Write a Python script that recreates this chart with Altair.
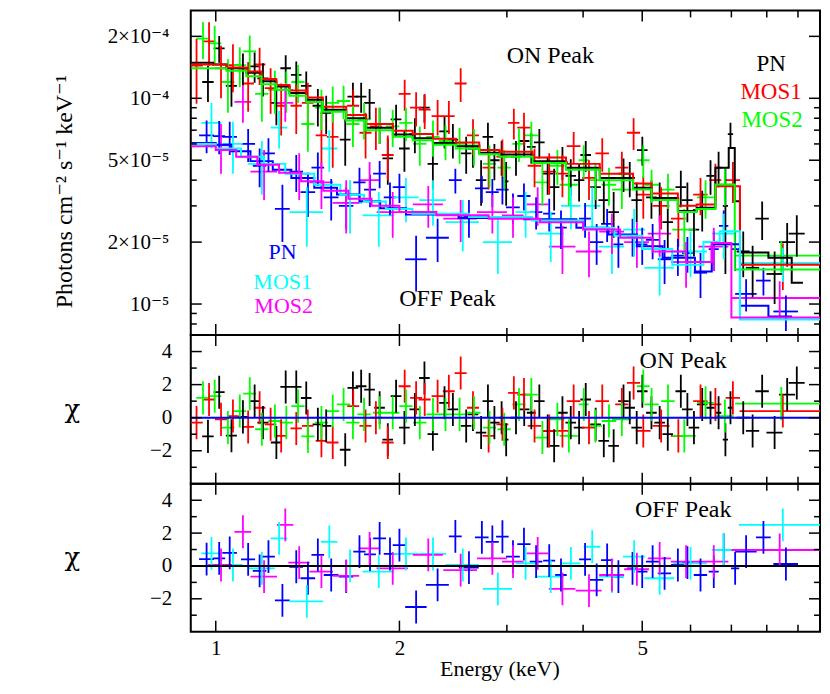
import altair as alt
import pandas as pd

FONT = "Liberation Serif, Times New Roman, DejaVu Serif, serif"
CHI_FONT = "DejaVu Serif, Liberation Serif, serif"
W = 630
H_TOP, H_MID, H_BOT = 325, 149, 148

# ---------------- data (energy in keV, flux in units of 1e-5 photons cm^-2 s^-1 keV^-1) -------------
# ON peak, PN (black)
on_pn_E = [0.971,1.013,1.061,1.108,1.158,1.195,1.257,1.302,1.355,1.407,1.470,1.517,1.630,1.678,1.731,1.787,1.856,1.914,1.975,2.038,
           2.120,2.198,2.269,2.371,2.447,2.573,2.640,2.722,2.793,2.862,2.941,2.992,3.105,3.203,3.290,3.391,3.499,3.586,3.700,3.818,
           3.940,4.040,4.194,4.325,4.489,4.659,4.770,4.897,5.002,5.177,5.340,5.506,5.784,5.929,6.078,6.270,6.470,6.670,6.844,6.976,
           7.320,7.584,7.862,8.240,8.640,8.960]
on_pn_dE = [0.021,0.021,0.022,0.023,0.023,0.025,0.026,0.026,0.027,0.028,0.029,0.030,0.033,0.034,0.035,0.036,0.037,0.038,0.040,0.041,
            0.043,0.044,0.045,0.047,0.049,0.051,0.053,0.054,0.056,0.057,0.026,0.026,0.062,0.064,0.055,0.068,0.070,0.072,0.074,0.076,
            0.079,0.081,0.084,0.087,0.090,0.093,0.095,0.098,0.100,0.104,0.107,0.110,0.116,0.119,0.122,0.125,0.100,0.067,0.068,0.070,
            0.180,0.190,0.200,0.250,0.260,0.270]
on_pn_flux = [12.0,17.5,11.5,14.0,14.3,12.5,9.5,14.0,13.0,11.5,9.2,8.5,6.3,10.2,10.2,9.5,7.5,5.1,7.9,5.7,
              6.7,9.0,4.8,6.9,6.3,5.4,5.7,4.0,6.5,5.0,5.2,3.95,5.2,6.2,5.8,6.1,4.3,3.7,4.9,4.2,
              4.0,5.3,3.7,3.2,2.8,4.3,4.1,3.2,5.6,3.3,3.2,2.5,3.7,3.2,2.3,2.9,4.2,4.6,3.0,6.7,
              1.8,1.5,2.6,1.4,2.0,2.2]
on_pn_err = [2.4,2.6,2.4,2.5,2.4,2.3,2.1,2.2,2.1,2.0,1.9,1.8,1.6,1.7,1.7,1.6,1.5,1.3,1.4,1.3,
             1.3,1.4,1.2,1.2,1.2,1.1,1.1,1.0,1.1,1.0,1.0,0.95,1.0,1.0,1.0,1.0,0.9,0.85,0.9,0.85,
             0.85,0.9,0.8,0.75,0.7,0.8,0.8,0.7,0.9,0.7,0.7,0.65,0.75,0.7,0.6,0.65,0.8,0.9,1.6,0.9,
             0.45,0.42,0.55,0.4,0.48,0.5]
on_pn_chi = [-1.13,1.54,-1.09,0.05,1.0,-0.3,-1.5,1.86,1.86,1.19,-0.4,-0.5,-1.94,1.8,1.9,1.7,0.6,-1.33,1.3,-0.6,
             0.5,2.4,-1.0,0.9,0.5,-0.5,0.2,-0.9,1.0,-0.3,0.0,-1.33,0.0,0.5,0.3,1.0,-0.8,-1.7,0.3,-0.3,
             -0.6,1.1,-0.4,-1.4,-1.7,1.0,0.6,-0.6,1.6,0.3,-0.3,-1.0,1.6,0.5,-0.6,0.8,0.6,0.3,-1.33,0.6,
             0.0,-0.8,1.6,-0.9,1.4,2.1]

# ON peak, MOS1 (red)
on_m1_E = [0.930,0.975,1.020,1.067,1.130,1.180,1.230,1.280,1.355,1.415,1.490,1.555,1.680,1.760,1.830,1.914,2.040,2.130,2.200,2.310,
           2.410,2.520,2.640,2.800,2.950,3.080,3.200,3.330,3.520,3.700,3.860,4.090,4.300,4.630,4.840,5.020,5.370,5.730,6.230,6.590,
           7.040,8.500]
on_m1_dE = [0.022,0.023,0.023,0.023,0.025,0.026,0.027,0.028,0.029,0.031,0.032,0.034,0.038,0.040,0.041,0.043,0.046,0.048,0.050,0.052,
            0.054,0.057,0.060,0.063,0.066,0.066,0.080,0.085,0.090,0.095,0.100,0.105,0.110,0.115,0.120,0.140,0.170,0.160,0.170,0.150,
            0.190,1.280]
on_m1_flux = [14.4,18.9,14.0,14.5,11.8,14.6,11.2,9.2,9.2,9.5,6.6,6.5,9.2,6.8,7.3,5.3,10.5,9.0,8.8,8.2,
              8.2,11.8,6.6,4.6,5.2,7.6,7.2,4.7,4.4,4.3,5.85,4.1,5.4,4.6,6.8,3.4,3.0,2.6,3.4,4.0,
              4.0,1.57]
on_m1_err = [5.0,4.5,4.0,3.8,3.2,3.0,2.8,2.6,2.5,2.4,2.0,1.9,1.8,1.7,1.7,1.3,1.8,1.7,1.7,1.6,
             1.5,2.2,1.3,1.0,1.1,1.3,1.3,1.0,1.0,1.0,1.0,0.9,1.0,0.9,1.2,0.8,0.7,0.7,0.7,0.8,
             0.9,0.40]
on_m1_chi = [-0.3,1.1,-0.1,0.1,-0.56,0.6,-0.4,-1.1,-0.65,-0.5,-1.4,-1.5,0.7,-0.5,0.0,-1.5,1.9,1.2,1.1,1.3,
             1.6,2.7,0.6,-1.1,-0.4,1.5,1.4,-0.5,-0.8,-0.8,1.0,-0.6,1.0,0.8,2.1,-0.8,-0.5,-1.1,1.0,0.8,
             1.2,0.4]

# ON peak, MOS2 (green)
on_m2_E = [0.953,0.996,1.047,1.095,1.137,1.190,1.250,1.305,1.364,1.416,1.490,1.555,1.620,1.678,1.750,1.856,1.950,2.050,2.160,2.270,
           2.380,2.510,2.650,2.810,2.970,3.140,3.290,3.430,3.630,3.790,4.010,4.190,4.410,4.630,5.020,5.180,5.510,5.860,6.350,6.830,
           8.450]
on_m2_dE = [0.024,0.025,0.026,0.027,0.028,0.030,0.031,0.033,0.034,0.035,0.037,0.039,0.041,0.042,0.044,0.046,0.049,0.051,0.054,0.057,
            0.060,0.063,0.066,0.070,0.074,0.078,0.082,0.095,0.100,0.130,0.075,0.105,0.120,0.170,0.120,0.140,0.140,0.260,0.200,0.230,
            1.350]
on_m2_flux = [19.5,18.5,12.0,14.5,16.9,10.5,11.0,11.0,12.0,7.5,9.0,9.5,9.7,7.5,7.9,7.5,7.3,7.6,6.0,6.5,
              6.2,6.0,5.9,4.8,4.6,6.0,6.6,3.9,4.7,3.8,5.0,4.0,3.8,3.6,5.0,3.8,3.6,2.3,3.3,3.8,
              1.72]
on_m2_err = [4.0,4.0,3.5,3.2,3.3,2.8,2.6,2.5,2.5,2.0,2.0,1.9,1.8,1.7,1.6,1.5,1.5,1.4,1.3,1.3,
             1.2,1.2,1.2,1.1,1.0,1.1,1.1,0.9,0.9,0.8,0.9,0.8,0.8,0.7,0.9,0.7,0.7,0.6,0.7,0.8,
             0.30]
on_m2_chi = [1.2,1.3,-0.6,0.4,1.45,-0.7,-0.2,-0.3,0.7,-1.13,-0.3,0.4,0.8,-0.3,0.2,0.3,0.3,0.7,-0.3,0.2,
             0.2,0.2,0.3,-0.6,-0.7,0.8,1.4,-1.2,-0.1,-1.1,0.8,-0.5,-0.2,-0.1,1.9,0.8,1.0,-1.1,0.9,0.1,
             0.85]

# OFF peak, PN (blue)
off_pn_E = [0.966,1.013,1.054,1.130,1.180,1.220,1.286,1.355,1.416,1.470,1.546,1.636,1.720,1.790,1.856,1.930,2.000,2.130,2.310,2.470,
            2.600,2.730,2.840,2.950,3.070,3.200,3.350,3.520,3.680,4.030,4.210,4.380,4.570,4.820,5.000,5.200,5.440,5.720,5.930,6.230,
            6.550,6.800,7.100,7.400,7.900,8.600]
off_pn_dE = [0.027,0.023,0.029,0.030,0.030,0.030,0.036,0.035,0.039,0.035,0.043,0.045,0.040,0.040,0.045,0.045,0.050,0.086,0.100,0.060,
             0.098,0.070,0.070,0.070,0.080,0.080,0.080,0.080,0.080,0.090,0.106,0.100,0.086,0.100,0.100,0.130,0.137,0.144,0.120,0.157,
             0.124,0.120,0.110,0.300,0.220,0.400]
off_pn_flux = [6.6,6.55,6.5,6.0,4.7,5.4,2.9,4.4,3.5,4.6,3.3,3.0,3.9,3.6,4.3,3.3,3.7,1.65,2.1,4.0,
               2.65,3.65,3.5,3.6,2.95,3.35,2.8,2.75,2.35,2.6,2.0,2.45,1.95,2.15,1.95,2.05,1.65,1.72,1.77,1.42,
               1.85,2.4,1.85,1.12,1.3,0.92]
off_pn_err = [1.2,1.2,1.2,1.1,1.0,1.0,0.9,0.9,0.85,0.85,0.75,0.7,0.7,0.65,0.65,0.6,0.6,0.5,0.5,0.55,
              0.55,0.55,0.55,0.55,0.5,0.5,0.5,0.5,0.5,0.5,0.45,0.45,0.45,0.45,0.4,0.4,0.4,0.35,0.35,0.35,
              0.4,0.45,0.4,0.2,0.2,0.18]
off_pn_chi = [0.42,0.46,0.8,0.4,-0.3,0.57,-2.1,-0.05,-0.75,0.67,-0.55,-0.65,0.87,0.7,1.68,0.73,1.27,-2.5,-1.15,1.8,
              -0.1,1.74,1.47,1.78,0.57,1.33,0.26,0.32,-0.55,0.4,-0.85,0.36,-0.65,-0.15,-0.35,0.26,-0.45,0.06,0.2,-0.55,
              -0.35,0.97,-0.15,0.87,1.74,0.12]

# OFF peak, MOS1 (cyan)
off_m1_E = [0.984,1.067,1.190,1.270,1.410,1.535,1.660,1.850,2.050,2.270,2.540,2.900,3.220,3.540,3.820,4.140,4.460,4.850,5.340,6.000,
            6.800,8.500]
off_m1_dE = [0.037,0.040,0.060,0.040,0.089,0.048,0.077,0.110,0.100,0.114,0.160,0.160,0.120,0.180,0.140,0.130,0.210,0.200,0.300,0.380,
             0.300,1.300]
off_m1_flux = [7.6,6.0,4.8,7.2,2.8,5.7,3.1,2.7,3.3,3.2,2.5,2.0,2.8,2.2,3.0,3.0,1.9,2.3,1.5,1.8,
               2.2,1.58]
off_m1_err = [1.9,1.7,1.4,1.5,0.9,1.3,0.9,0.8,0.8,0.8,0.7,0.6,0.7,0.6,0.7,0.7,0.5,0.6,0.4,0.45,
              0.55,0.30]
off_m1_chi = [0.77,0.06,-0.15,1.68,-2.16,1.47,0.0,-0.35,0.73,0.73,0.06,-1.4,0.16,-0.65,0.16,1.17,-0.65,0.57,-0.75,0.16,
              0.97,2.5]

# OFF peak, MOS2 (magenta)
off_m2_E = [1.020,1.108,1.200,1.300,1.370,1.490,1.636,1.787,1.950,2.230,2.520,2.840,3.070,3.370,3.700,4.090,4.460,4.900,5.340,5.900,
            6.550,8.400]
off_m2_dE = [0.048,0.035,0.060,0.040,0.055,0.066,0.082,0.072,0.115,0.126,0.160,0.160,0.125,0.136,0.186,0.200,0.210,0.230,0.235,0.330,
             0.370,1.400]
off_m2_flux = [5.9,9.6,4.4,9.5,4.3,3.9,3.1,4.0,2.8,3.05,2.6,2.8,2.7,3.05,1.9,1.8,2.25,2.0,2.2,1.6,
               1.9,1.07]
off_m2_err = [1.6,2.0,1.2,1.8,1.1,1.0,0.9,0.9,0.7,0.7,0.6,0.6,0.6,0.65,0.5,0.45,0.5,0.5,0.5,0.4,
              0.45,0.22]
off_m2_chi = [0.06,2.08,-0.65,2.5,0.2,-0.35,-0.6,1.07,-0.15,0.67,-0.25,0.46,0.26,0.77,-1.4,-1.5,-0.55,-0.2,0.46,0.26,
              0.26,0.97]

# best-fit model step functions: bin edges (keV) and values (1e-5 units)
on_pn_model_edges = [0.912,0.990,1.041,1.122,1.188,1.257,1.321,1.407,1.498,1.636,1.764,1.951,2.103,2.269,2.475,2.703,
                     2.917,3.306,3.750,4.260,4.830,5.180,5.720,6.140,6.590,6.930,7.090,7.230,8.050,8.790,9.170]
on_pn_model = [14.9,14.6,14.0,13.3,12.1,11.4,10.6,9.85,8.8,8.0,7.2,6.66,6.4,6.07,5.85,5.43,5.33,4.95,4.59,4.1,
               3.67,3.28,2.83,2.94,4.59,5.74,3.16,1.78,1.68,1.27]
on_m1_model_edges = [0.912,0.990,1.041,1.122,1.188,1.257,1.321,1.407,1.498,1.636,1.764,1.951,2.103,2.269,2.475,2.703,
                     2.917,3.306,3.750,4.260,4.830,5.180,5.720,6.140,6.590,7.230,9.800]
on_m1_model = [14.6,14.6,14.1,13.5,12.4,11.6,10.9,10.1,9.1,8.3,7.5,6.95,6.7,6.35,6.1,5.6,5.5,5.15,4.8,4.3,
               3.85,3.45,3.0,3.05,3.74,1.55]
on_m2_model_edges = [0.912,0.990,1.041,1.122,1.188,1.257,1.321,1.407,1.498,1.636,1.764,1.951,2.103,2.269,2.475,2.703,
                     2.917,3.306,3.750,4.260,4.830,5.180,5.720,6.140,6.590,7.090,9.800]
on_m2_model = [14.0,14.0,13.6,12.8,11.7,11.0,10.3,9.6,8.6,7.8,7.0,6.5,6.25,5.95,5.7,5.35,5.2,4.85,4.5,4.0,
               3.6,3.2,2.8,2.9,3.81,1.47]
off_pn_model_edges = [0.912,1.000,1.060,1.140,1.240,1.330,1.450,1.580,1.720,1.860,2.050,2.500,3.200,3.900,4.400,4.900,
                      5.400,6.100,6.500,7.230,8.050,8.800]
off_pn_model = [6.07,5.95,5.53,4.95,4.5,4.1,3.67,3.41,3.16,2.92,2.72,2.62,2.58,2.35,2.18,1.91,1.68,1.44,1.95,0.98,0.87]
off_m1_model_edges = [0.912,1.000,1.100,1.200,1.300,1.450,1.600,1.750,1.900,2.100,2.600,3.300,4.000,4.500,5.000,5.600,
                      6.300,6.700,7.230,9.800]
off_m1_model = [6.0,5.7,5.2,4.8,4.3,3.8,3.4,3.15,2.9,2.75,2.65,2.55,2.35,2.15,1.85,1.55,2.0,2.26,0.84]
off_m2_model_edges = [0.912,1.000,1.080,1.170,1.270,1.380,1.500,1.650,1.800,2.000,2.300,2.800,3.400,4.000,4.600,5.200,
                      5.900,6.500,7.000,9.800]
off_m2_model = [5.85,5.6,5.2,4.75,4.35,3.95,3.55,3.25,3.0,2.8,2.7,2.6,2.5,2.3,2.1,1.8,1.6,1.98,0.86]

# axis ticks / labels
x_major = [1, 2, 5]
x_minor = [3, 4, 6, 7, 8, 9]
flux_major = [1e-5, 2e-5, 5e-5, 1e-4, 2e-4]
flux_minor = [8e-6, 9e-6, 3e-5, 4e-5, 6e-5, 7e-5, 8e-5, 9e-5]
chi_major = [-2, 0, 2, 4]
chi_minor = [-3, -1, 1, 3]

names = ["ON PN", "ON MOS1", "ON MOS2", "OFF PN", "OFF MOS1", "OFF MOS2"]
colors = ["#000000", "#ff0000", "#00ff00", "#0000ff", "#00ffff", "#ff00ff"]

# ---------------- tables ----------------
def points(name, E, dE, F, dF, chi):
    rows = []
    for e, de, f, df, c in zip(E, dE, F, dF, chi):
        rows.append(dict(series=name, E=e, Elo=e - de, Ehi=e + de,
                         F=f * 1e-5, Flo=(f - df) * 1e-5, Fhi=(f + df) * 1e-5,
                         chi=c, clo=c - 1, chi_hi=c + 1))
    return pd.DataFrame(rows)


def model(name, edges, vals):
    rows = [dict(series=name, E=edges[i], M=vals[i] * 1e-5) for i in range(len(vals))]
    rows.append(dict(series=name, E=edges[-1], M=vals[-1] * 1e-5))
    return pd.DataFrame(rows)


on_pts = pd.concat([points("ON PN", on_pn_E, on_pn_dE, on_pn_flux, on_pn_err, on_pn_chi),
                    points("ON MOS1", on_m1_E, on_m1_dE, on_m1_flux, on_m1_err, on_m1_chi),
                    points("ON MOS2", on_m2_E, on_m2_dE, on_m2_flux, on_m2_err, on_m2_chi)], ignore_index=True)
off_pts = pd.concat([points("OFF PN", off_pn_E, off_pn_dE, off_pn_flux, off_pn_err, off_pn_chi),
                     points("OFF MOS1", off_m1_E, off_m1_dE, off_m1_flux, off_m1_err, off_m1_chi),
                     points("OFF MOS2", off_m2_E, off_m2_dE, off_m2_flux, off_m2_err, off_m2_chi)], ignore_index=True)
all_pts = pd.concat([on_pts, off_pts], ignore_index=True)

models = pd.concat([model("ON PN", on_pn_model_edges, on_pn_model),
                    model("ON MOS1", on_m1_model_edges, on_m1_model),
                    model("ON MOS2", on_m2_model_edges, on_m2_model),
                    model("OFF PN", off_pn_model_edges, off_pn_model),
                    model("OFF MOS1", off_m1_model_edges, off_m1_model),
                    model("OFF MOS2", off_m2_model_edges, off_m2_model)], ignore_index=True)

# ---------------- scales / axes ----------------
xs = alt.Scale(type="log", domain=[0.91, 9.78], nice=False)
ys_top = alt.Scale(type="log", domain=[7.07e-6, 2.674e-4], nice=False)
ys_chi = alt.Scale(domain=[-4, 5], nice=False, zero=False)
col = alt.Color("series:N", scale=alt.Scale(domain=names, range=colors), legend=None)

common_axis = dict(ticks=False, domain=False, grid=False, labelFont=FONT, labelColor="black",
                   titleColor="black", titleFontWeight="normal", labelOverlap=False)

flux_label = ("datum.value < 1.5e-5 ? '10⁻⁵' : datum.value < 3e-5 ? '2×10⁻⁵' : "
              "datum.value < 7e-5 ? '5×10⁻⁵' : datum.value < 1.5e-4 ? '10⁻⁴' : '2×10⁻⁴'")
y_top_axis = alt.Axis(values=flux_major, labelExpr=flux_label, labelPadding=22, labelFontSize=21,
                      title="Photons cm⁻² s⁻¹ keV⁻¹", titleFont=FONT, titleFontSize=24, titleAngle=270,
                      titleX=-126, titleY=181, titleAlign="center", titleBaseline="middle", **common_axis)


def chi_axis(h):
    return alt.Axis(values=chi_major,
                    labelExpr="datum.value < 0 ? '−' + (-datum.value) : '' + datum.value",
                    labelPadding=19, labelFontSize=21, title="χ", titleFont=CHI_FONT, titleFontSize=26,
                    titleAngle=0, titleX=-119, titleY=h / 2, titleAlign="center", titleBaseline="middle",
                    **common_axis)


x_bottom_axis = alt.Axis(values=x_major, labelExpr="'' + datum.value", labelPadding=6, labelFontSize=21,
                         title="Energy (keV)", titleFont=FONT, titleFontSize=22, titleX=309, titleY=27,
                         titleAlign="center", titleBaseline="top", **common_axis)


def tick_layers(h, yscale, yaxis, ymaj, ymin, xaxis):
    layers = []
    for vals, ln in ((x_major, 11), (x_minor, 7)):
        d = pd.DataFrame({"v": vals})
        base = alt.Chart(d).mark_rule(color="black", strokeWidth=1.5)
        layers.append(base.encode(x=alt.X("v:Q", scale=xs, axis=xaxis), y=alt.value(0), y2=alt.value(ln)))
        layers.append(base.encode(x=alt.X("v:Q", scale=xs, axis=xaxis), y=alt.value(h), y2=alt.value(h - ln)))
    for vals, ln in ((ymaj, 11), (ymin, 6)):
        d = pd.DataFrame({"v": vals})
        base = alt.Chart(d).mark_rule(color="black", strokeWidth=1.5)
        layers.append(base.encode(y=alt.Y("v:Q", scale=yscale, axis=yaxis), x=alt.value(0), x2=alt.value(ln)))
        layers.append(base.encode(y=alt.Y("v:Q", scale=yscale, axis=yaxis), x=alt.value(W), x2=alt.value(W - ln)))
    return layers


def label(text, px, py, color, size=24):
    return alt.Chart(pd.DataFrame({"t": [text]})).mark_text(
        font=FONT, fontSize=size, color=color, align="center", baseline="middle"
    ).encode(text="t:N", x=alt.value(px), y=alt.value(py))


SW = 1.8

# ---------------- top panel: spectra ----------------
top_h = alt.Chart(all_pts).mark_rule(strokeWidth=SW, clip=True).encode(
    x=alt.X("Elo:Q", scale=xs, axis=None), x2="Ehi:Q",
    y=alt.Y("F:Q", scale=ys_top, axis=y_top_axis), color=col)
top_v = alt.Chart(all_pts).mark_rule(strokeWidth=SW, clip=True).encode(
    x=alt.X("E:Q", scale=xs, axis=None),
    y=alt.Y("Flo:Q", scale=ys_top, axis=y_top_axis), y2="Fhi:Q", color=col)
top_m = alt.Chart(models).mark_line(interpolate="step-after", strokeWidth=2, clip=True).encode(
    x=alt.X("E:Q", scale=xs, axis=None),
    y=alt.Y("M:Q", scale=ys_top, axis=y_top_axis), color=col, detail="series:N")

top = alt.layer(
    top_h, top_v, top_m,
    *tick_layers(H_TOP, ys_top, y_top_axis, flux_major, flux_minor, None),
    label("ON Peak", 360, 46, "black"),
    label("PN", 581, 54, "black", 23),
    label("MOS1", 581, 82, "#ff0000", 23),
    label("MOS2", 582, 110, "#00ff00", 23),
    label("PN", 92, 242, "#0000ff", 22),
    label("MOS1", 92, 272, "#00ffff", 22),
    label("MOS2", 93, 296, "#ff00ff", 22),
    label("OFF Peak", 257, 289, "black"),
).properties(width=W, height=H_TOP)


# ---------------- residual panels ----------------
def resid_panel(pts, h, zero_color, txt, xaxis):
    ax = chi_axis(h)
    hbar = alt.Chart(pts).mark_rule(strokeWidth=SW, clip=True).encode(
        x=alt.X("Elo:Q", scale=xs, axis=xaxis), x2="Ehi:Q",
        y=alt.Y("chi:Q", scale=ys_chi, axis=ax), color=col)
    vbar = alt.Chart(pts).mark_rule(strokeWidth=SW, clip=True).encode(
        x=alt.X("E:Q", scale=xs, axis=xaxis),
        y=alt.Y("clo:Q", scale=ys_chi, axis=ax), y2="chi_hi:Q", color=col)
    zero = alt.Chart(pd.DataFrame({"z": [0]})).mark_rule(color=zero_color, strokeWidth=2).encode(
        y=alt.Y("z:Q", scale=ys_chi, axis=ax))
    return alt.layer(
        hbar, vbar, zero,
        *tick_layers(h, ys_chi, ax, chi_major, chi_minor, xaxis),
        label(txt, 493, 26, "black"),
    ).properties(width=W, height=h)


mid = resid_panel(on_pts, H_MID, "#0000ff", "ON Peak", None)
bot = resid_panel(off_pts, H_BOT, "#000000", "OFF Peak", x_bottom_axis)

chart = alt.vconcat(top, mid, bot, spacing=0, bounds="flush").properties(
    padding={"left": 44, "top": 0, "right": 0, "bottom": 0}
).configure_view(stroke="black", strokeWidth=2)

chart.save("out.html", embed_options={"renderer": "svg", "actions": False})
